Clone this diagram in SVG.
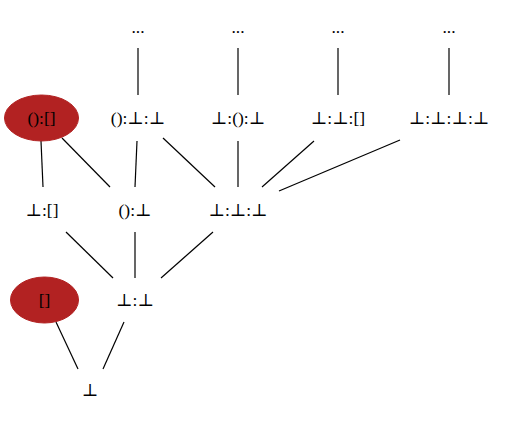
<svg xmlns="http://www.w3.org/2000/svg" width="505" height="421" viewBox="0 0 505 421">
<style>
text{font-family:"Liberation Serif","DejaVu Serif",serif;font-size:17.5px;text-anchor:middle;fill:#000}
.e line{stroke:#000;stroke-width:1.2}
.red{fill:#b22222;stroke:#b22222}
</style>
<rect width="505" height="421" fill="#fff"/>
<g class="e" id="edges">
<line x1="138" y1="48" x2="138" y2="95"/>
<line x1="238" y1="48" x2="238" y2="95"/>
<line x1="338" y1="48" x2="338" y2="95"/>
<line x1="449" y1="48" x2="449" y2="95"/>
<line x1="41" y1="141" x2="43" y2="187"/>
<line x1="62" y1="138" x2="110" y2="187"/>
<line x1="137" y1="141" x2="135" y2="187"/>
<line x1="163" y1="138" x2="215" y2="187"/>
<line x1="238" y1="141" x2="238" y2="187"/>
<line x1="314" y1="141" x2="262" y2="187"/>
<line x1="400" y1="140" x2="279" y2="191"/>
<line x1="66" y1="232" x2="113" y2="278"/>
<line x1="135" y1="232" x2="135" y2="278"/>
<line x1="213" y1="232" x2="161" y2="278"/>
<line x1="56" y1="322" x2="78" y2="369"/>
<line x1="124" y1="322" x2="103" y2="369"/>
</g>
<g id="d1"><text x="138" y="33">...</text></g>
<g id="d2"><text x="238" y="33">...</text></g>
<g id="d3"><text x="338" y="33">...</text></g>
<g id="d4"><text x="449" y="33">...</text></g>
<g id="n_unit_nil"><ellipse class="red" cx="41.5" cy="118" rx="37" ry="23"/><text x="41.5" y="124">():[]</text></g>
<g id="n_unit_b_b"><text x="138" y="124">():⊥:⊥</text></g>
<g id="n_b_unit_b"><text x="238" y="124">⊥:():⊥</text></g>
<g id="n_b_b_nil"><text x="338" y="124">⊥:⊥:[]</text></g>
<g id="n_b_b_b_b"><text x="449" y="124">⊥:⊥:⊥:⊥</text></g>
<g id="n_b_nil"><text x="42" y="216">⊥:[]</text></g>
<g id="n_unit_b"><text x="135" y="216">():⊥</text></g>
<g id="n_b_b_b"><text x="238" y="216">⊥:⊥:⊥</text></g>
<g id="n_nil"><ellipse class="red" cx="44.5" cy="300" rx="34" ry="23"/><text x="44.5" y="306">[]</text></g>
<g id="n_b_b"><text x="135" y="306">⊥:⊥</text></g>
<g id="n_b"><text x="90" y="396">⊥</text></g>
</svg>
